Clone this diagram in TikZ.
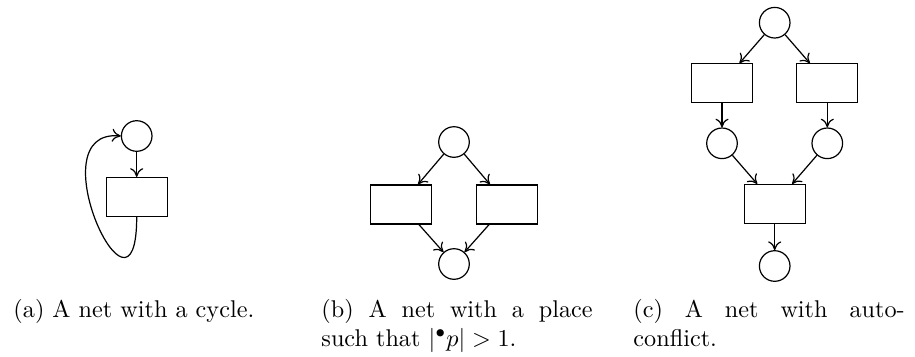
\documentclass[tikz,border=0pt]{standalone}
\usetikzlibrary{arrows.meta}
\begin{document}
\begin{tikzpicture}[x=0.413pt,y=-0.413pt,
  place/.style={draw,circle,minimum size=30.6*0.413pt,inner sep=0pt,line width=0.5pt},
  trans/.style={draw,rectangle,minimum width=61*0.413pt,minimum height=39*0.413pt,inner sep=0pt,line width=0.5pt},
  arc/.style={-{To[length=3.6pt,width=5.4pt]},line width=0.5pt},
  captext/.style={anchor=base west,inner sep=0pt,font=\fontsize{10}{12}\selectfont}]
\useasboundingbox (0,0) rectangle (915,356);
% (a)
\node[place] (pa) at (136.7,136) {};
\node[trans] (ta) at (136.7,197) {};
\draw[arc] (pa) -- (ta);
\draw[arc] (ta.south) .. controls (136.7,345) and (34,128) .. (pa.west);
% (b)
\node[place] (pb1) at (454,142) {};
\node[trans] (tb1) at (401,204.4) {};
\node[trans] (tb2) at (507,204.4) {};
\node[place] (pb2) at (454,264) {};
\draw[arc] (pb1) -- (tb1);
\draw[arc] (pb1) -- (tb2);
\draw[arc] (tb1) -- (pb2);
\draw[arc] (tb2) -- (pb2);
% (c)
\node[place] (pc1) at (774.7,22.7) {};
\node[trans] (tc1) at (722,83.3) {};
\node[trans] (tc2) at (827.3,83.3) {};
\node[place] (pc2) at (722,143.3) {};
\node[place] (pc3) at (827.3,143.3) {};
\node[trans] (tc3) at (774.7,204) {};
\node[place] (pc4) at (774.7,266) {};
\draw[arc] (pc1) -- (tc1);
\draw[arc] (pc1) -- (tc2);
\draw[arc] (tc1) -- (pc2);
\draw[arc] (tc2) -- (pc3);
\draw[arc] (pc2) -- (tc3);
\draw[arc] (pc3) -- (tc3);
\draw[arc] (tc3) -- (pc4);
% captions
\node[captext] (capa) at (13,317) {(a) A net with a cycle.};
\node[captext] (capb1) at (321,317) {\makebox[112pt][s]{(b) A net with a place}};
\node[captext] (capb2) at (321,346) {such that $|{}^\bullet p| > 1$.};
\node[captext] (capc1) at (633,317) {\makebox[112pt][s]{(c) A net with auto-}};
\node[captext] (capc2) at (633,346) {conflict.};
\end{tikzpicture}
\end{document}
